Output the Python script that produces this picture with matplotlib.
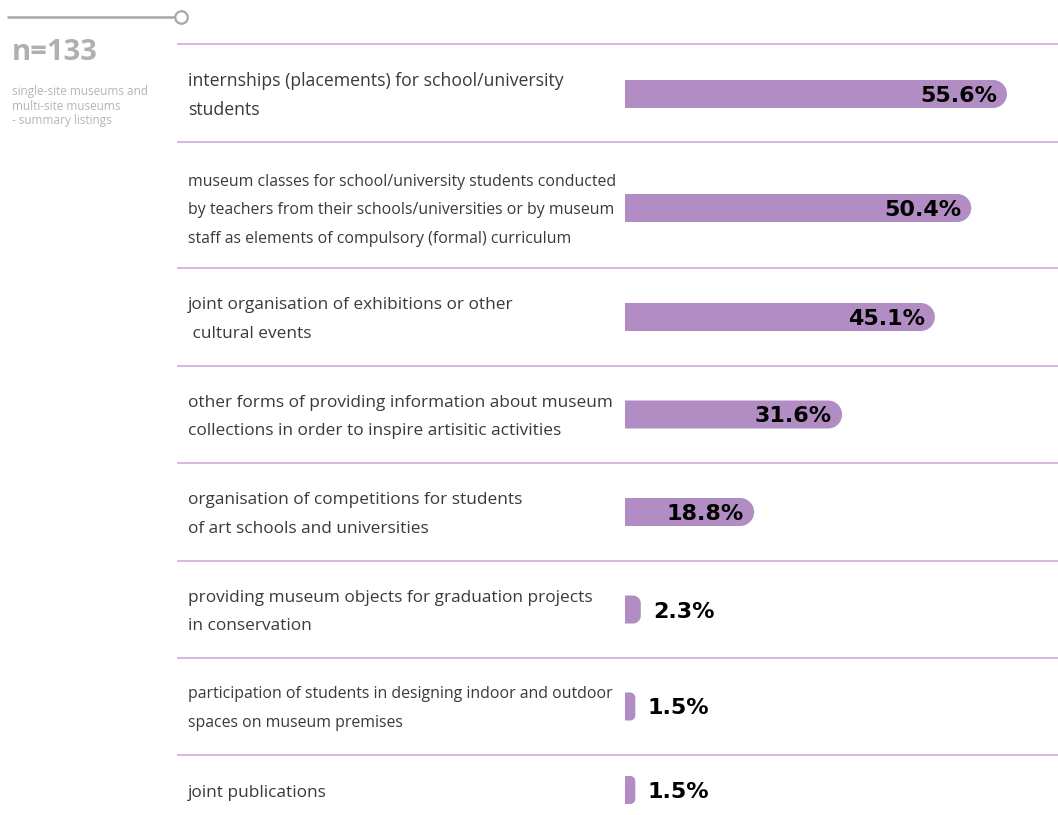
import matplotlib
matplotlib.use("Agg")
import matplotlib.pyplot as plt
import numpy as np
from matplotlib.patches import Polygon
from matplotlib.transforms import blended_transform_factory

# ---------------- data ----------------
categories = [
    "internships (placements) for school/university\nstudents",
    "museum classes for school/university students conducted\nby teachers from their schools/universities or by museum\nstaff as elements of compulsory (formal) curriculum",
    "joint organisation of exhibitions or other\n cultural events",
    "other forms of providing information about museum\ncollections in order to inspire artisitic activities",
    "organisation of competitions for students\nof art schools and universities",
    "providing museum objects for graduation projects\nin conservation",
    "participation of students in designing indoor and outdoor\nspaces on museum premises",
    "joint publications",
]
values = [55.6, 50.4, 45.1, 31.6, 18.8, 2.3, 1.5, 1.5]
value_labels = ["55.6%", "50.4%", "45.1%", "31.6%", "18.8%", "2.3%", "1.5%", "1.5%"]
sample_title = "n=133"
sample_note = "single-site museums and\nmulti-site museums\n- summary listings"

# ---------------- layout / style ----------------
W, H = 1058, 815
row_heights = [98, 126, 98, 97, 98, 97, 97, 70]   # px
top_px = 44
bar_h = 28
x0_px = 625            # where 0 % sits
px_per_pct = 6.87
label_x_px = 188
line_px = 28.5
label_sizes = [12.7, 11.4, 12.4, 12.4, 12.4, 12.4, 11.4, 12.4]
bar_color = "#b28dc3"
sep_color = "#c9a8d6"
text_color = "#3a3a3a"
grey = "#b0b0b0"

fig = plt.figure(figsize=(W / 100, H / 100), dpi=100)
ax = fig.add_axes([0, 0, 1, 1])
ax.set_xlim(-x0_px / px_per_pct, (W - x0_px) / px_per_pct)
ax.set_ylim(H, 0)
ax.axis("off")

bounds = top_px + np.concatenate([[0], np.cumsum(row_heights)])
centers = bounds[:-1] + np.array(row_heights) / 2.0
centers[0] += 1
centers[1] += 3

fx = blended_transform_factory(ax.transAxes, ax.transData)

# separators
for b in bounds[:-1]:
    ax.plot([177 / W, 1.0], [b, b], color=sep_color, lw=1.1, transform=fx,
            solid_capstyle="butt")


def rounded_bar(y, w, h):
    wpx = w * px_per_pct
    r = min(h / 2.0, wpx / 2.0)
    rx = r / px_per_pct
    cx = w - rx
    t1 = np.linspace(-np.pi / 2, 0, 20)
    t2 = np.linspace(0, np.pi / 2, 20)
    pts = [(0, y - h / 2)]
    pts += [(cx + rx * np.cos(t), (y - h / 2 + r) + r * np.sin(t)) for t in t1]
    pts += [(cx + rx * np.cos(t), (y + h / 2 - r) + r * np.sin(t)) for t in t2]
    pts += [(0, y + h / 2)]
    ax.add_patch(Polygon(pts, closed=True, facecolor=bar_color, edgecolor="none"))


for i, (cat, v, lab) in enumerate(zip(categories, values, value_labels)):
    y = centers[i]
    rounded_bar(y, v, bar_h)
    lines = cat.split("\n")
    n = len(lines)
    fs = label_sizes[i]
    xh_half = 0.535 * fs * 100 / 72 / 2.0
    for k, line in enumerate(lines):
        yc = y + 2 + (k - (n - 1) / 2.0) * line_px
        ax.text(label_x_px / W, yc + xh_half, line, transform=fx, ha="left",
                va="baseline", fontsize=fs, color=text_color, family="Open Sans")
    if v >= 10:
        ax.annotate(lab, xy=(v, y), xytext=(-10, -2), textcoords="offset pixels",
                    ha="right", va="center", fontsize=16, fontweight="bold",
                    color="black", family="DejaVu Sans")
    else:
        ax.annotate(lab, xy=(v, y), xytext=(12, -2), textcoords="offset pixels",
                    ha="left", va="center", fontsize=16, fontweight="bold",
                    color="black", family="DejaVu Sans")

# top-left decoration
ax.plot([7 / W, 175 / W], [1 - 17 / H, 1 - 17 / H], color="#a8a8a8", lw=1.8,
        transform=ax.transAxes, solid_capstyle="butt")
ax.plot([181 / W], [1 - 17 / H], marker="o", ms=9, mfc="white", mec="#a8a8a8",
        mew=1.6, transform=ax.transAxes)

ax.text(12 / W, 1 - 53 / H, sample_title, transform=ax.transAxes, ha="left",
        va="center", fontsize=21, fontweight="bold", color=grey, family="Open Sans")
ax.text(12 / W, 1 - 85 / H, sample_note, transform=ax.transAxes, ha="left",
        va="top", fontsize=8.5, color="#b5b5b5", family="Open Sans", linespacing=1.15)

fig.savefig("out.png", dpi=100, facecolor="white")
